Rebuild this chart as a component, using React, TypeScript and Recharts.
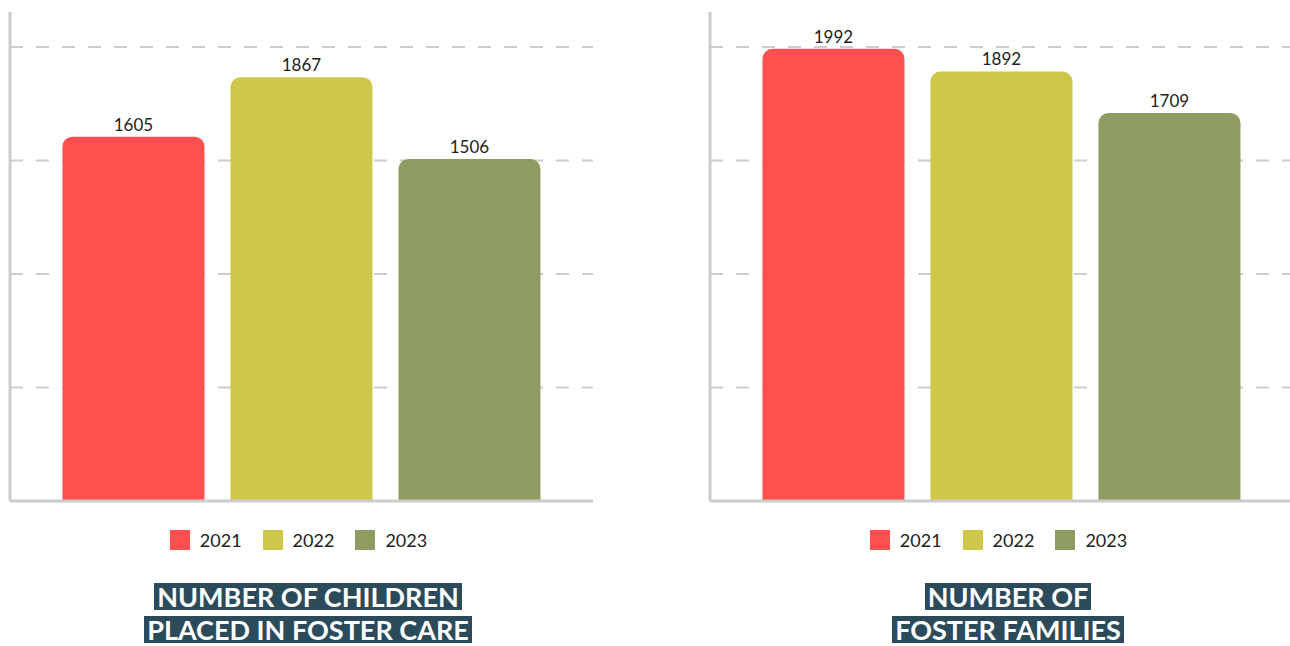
import React from 'react';
import { BarChart, Bar, XAxis, YAxis, ReferenceLine, LabelList } from 'recharts';

const years = ['2021', '2022', '2023'];
const colors = ['#ff4f4f', '#cfc74a', '#8e9c61'];
const childrenValues = [1605, 1867, 1506];
const familiesValues = [1992, 1892, 1709];
const gridTicks = [500, 1000, 1500, 2000];
const titleChildren = ['NUMBER OF CHILDREN', 'PLACED IN FOSTER CARE'];
const titleFamilies = ['NUMBER OF', 'FOSTER FAMILIES'];

const FONT = 'Lato, "Open Sans", sans-serif';

function buildRow(values: number[]) {
  const row: Record<string, number | string> = { name: '' };
  years.forEach((y, i) => {
    row['y' + y] = values[i];
  });
  return [row];
}

const NoTick = () => <g />;

function Panel({ values, title, left }: { values: number[]; title: string[]; left: number }) {
  const data = buildRow(values);
  return (
    <div style={{ position: 'absolute', left, top: 0, width: 600, height: 646 }}>
      <BarChart
        width={600}
        height={560}
        data={data}
        margin={{ top: 12, right: 7, left: 9, bottom: 58 }}
        barCategoryGap="9%"
        barGap={26}
      >
        <XAxis
          dataKey="name"
          height={1}
          tick={false}
          tickLine={false}
          axisLine={{ stroke: '#cccccc', strokeWidth: 3 }}
        />
        <YAxis
          type="number"
          width={1}
          domain={[0, 2154]}
          ticks={gridTicks}
          interval={0}
          tick={NoTick}
          tickLine={false}
          axisLine={{ stroke: '#cccccc', strokeWidth: 3 }}
        />
        {gridTicks.map((v) => (
          <ReferenceLine key={v} y={v} zIndex={-50} stroke="#cccccc" strokeWidth={2} strokeDasharray="13 13" />
        ))}
        {years.map((y, i) => (
          <Bar
            key={y}
            dataKey={'y' + y}
            fill={colors[i]}
            radius={[10, 10, 0, 0]}
            isAnimationActive={false}
          >
            <LabelList
              dataKey={'y' + y}
              position="top"
              offset={6}
              style={{ fontSize: 17, fill: '#222', fontFamily: FONT }}
            />
          </Bar>
        ))}
      </BarChart>
      <div
        style={{
          position: 'absolute',
          top: 530,
          left: 0,
          width: 597,
          display: 'flex',
          justifyContent: 'center',
          fontFamily: FONT,
          fontSize: 18,
          color: '#222',
        }}
      >
        {years.map((y, i) => (
          <div key={y} style={{ display: 'flex', alignItems: 'center', marginRight: i < 2 ? 21 : 0 }}>
            <span style={{ width: 20, height: 20, background: colors[i], display: 'inline-block', marginRight: 10 }} />
            <span style={{ lineHeight: '20px' }}>{y}</span>
          </div>
        ))}
      </div>
      <div
        style={{
          position: 'absolute',
          top: 583,
          left: 0,
          width: 616,
          textAlign: 'center',
          fontFamily: FONT,
          fontWeight: 700,
          fontSize: 27,
          lineHeight: '27px',
          color: '#fff',
        }}
      >
        {title.map((t, i) => (
          <div key={i} style={{ marginBottom: i === 0 ? 6 : 0 }}>
            <span style={{ background: '#2b4a5a', padding: '0 3px', display: 'inline-block' }}>{t}</span>
          </div>
        ))}
      </div>
    </div>
  );
}

export default function App() {
  return (
    <div style={{ position: 'absolute', left: 0, top: 0, width: 1290, height: 646, overflow: 'hidden', background: '#fff' }}>
      <Panel values={childrenValues} title={titleChildren} left={0} />
      <Panel values={familiesValues} title={titleFamilies} left={700} />
    </div>
  );
}
